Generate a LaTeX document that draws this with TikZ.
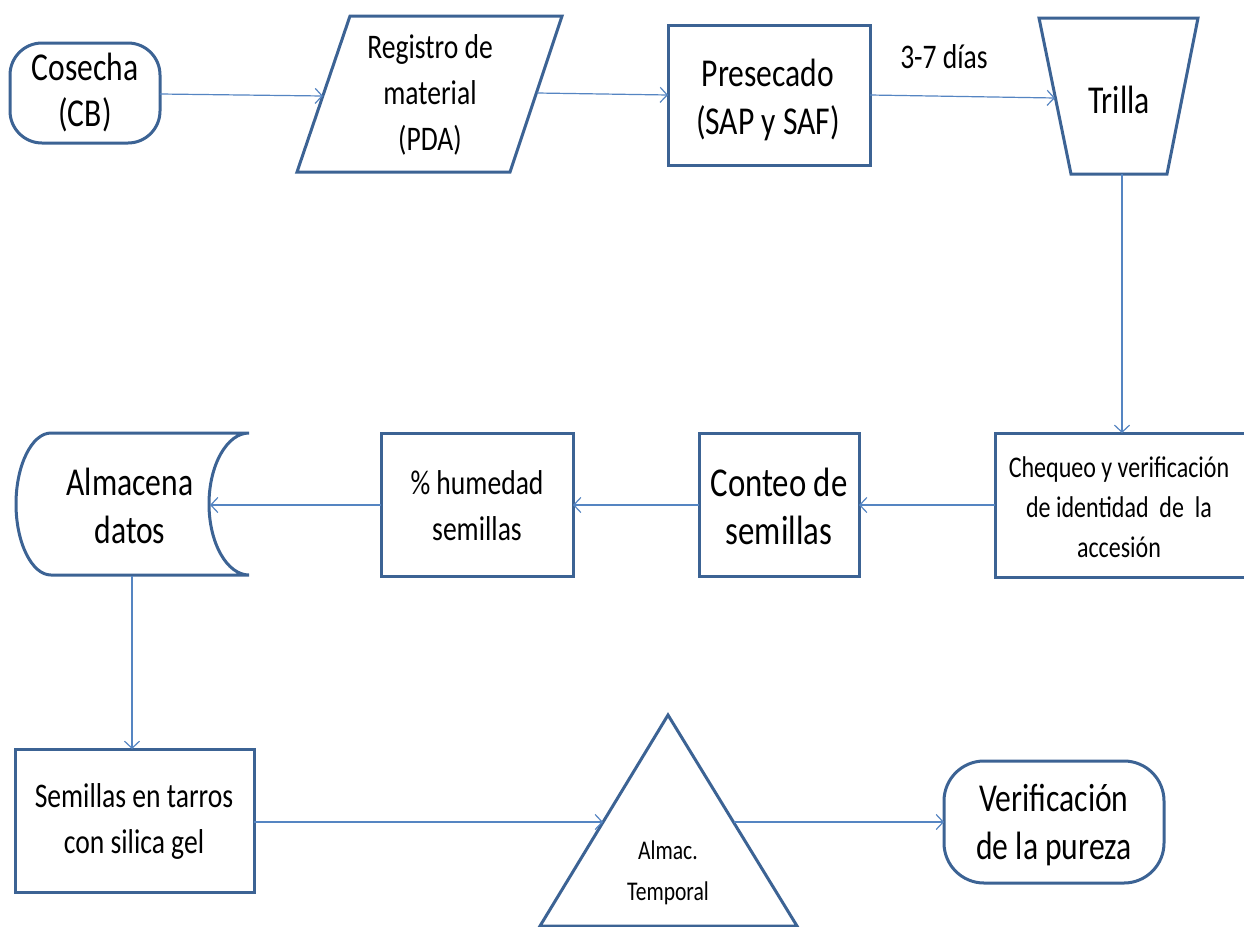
\documentclass[tikz,border=0pt]{standalone}
\usepackage{fontspec}
\setmainfont{Carlito}[FakeStretch=0.8]
\usetikzlibrary{arrows.meta}
\definecolor{bord}{HTML}{3C6394}
\definecolor{link}{HTML}{5585C2}
\begin{document}
\begin{tikzpicture}[x=1pt,y=-1pt,
  box/.style={draw=bord,line width=3pt,fill=white},
  conn/.style={draw=link,line width=1.2pt,-{Straight Barb[length=7pt,width=15pt,line width=1.2pt]}},
  lbl/.style={align=center,inner sep=0pt,text=black},
  big/.style={font=\fontsize{39.5}{46}\selectfont},
  mid/.style={font=\fontsize{34.5}{46}\selectfont},
  sml/.style={font=\fontsize{30}{40}\selectfont},
  tiny/.style={font=\fontsize{27}{41}\selectfont}]
\useasboundingbox (0,0) rectangle (1244,926);
\clip (0,0) rectangle (1244,926);
\fill[white] (0,0) rectangle (1244,926);

% --- row 1 ---
\draw[box,rounded corners=32pt] (10,43) rectangle (160,143);
\node[lbl,big] (cos) at (85,93) {Cosecha\\(CB)};
\coordinate (cosE) at (160,94);

\draw[box] (350,16) -- (562,16) -- (510,172) -- (297,172) -- cycle;
\node[lbl,mid] (reg) at (430,95) {Registro de\\material\\(PDA)};
\coordinate (regW) at (323,96);
\coordinate (regE) at (537,93);

\draw[box] (668,25) rectangle (870,165);
\node[lbl,font=\fontsize{39.5}{48}\selectfont] (pre) at (768,100) {Presecado\\(SAP y SAF)};
\coordinate (preW) at (668,95);
\coordinate (preE) at (870,95);

\node[lbl,mid] (dias) at (944,57) {3-7 días};

\draw[box] (1039,18) -- (1198,18) -- (1167,174) -- (1071,174) -- cycle;
\node[lbl,big] (tri) at (1119,100) {Trilla};
\coordinate (triW) at (1055,98);
\coordinate (triS) at (1122,174);

% --- row 2 ---
\draw[box] (995,433) rectangle (1250,577);
\node[lbl,sml] (che) at (1119,507) {Chequeo y verificación\\de identidad~ de~ la\\accesión};
\coordinate (cheN) at (1122,433);
\coordinate (cheW) at (995,505);

\draw[box] (699,433) rectangle (859,576);
\node[lbl,font=\fontsize{41}{48}\selectfont] (con) at (779,506) {Conteo de\\semillas};
\coordinate (conE) at (859,505);
\coordinate (conW) at (699,505);

\draw[box] (381,433) rectangle (573,576);
\node[lbl,mid] (hum) at (477,506) {\% humedad\\semillas};
\coordinate (humE) at (573,505);
\coordinate (humW) at (381,505);

\draw[box] (51,433) -- (249,433)
  .. controls (227,433) and (209,465) .. (209,504)
  .. controls (209,543) and (227,575) .. (249,575)
  -- (51,575)
  .. controls (32,575) and (16,543) .. (16,504)
  .. controls (16,465) and (32,433) .. cycle;
\node[lbl,font=\fontsize{39.5}{48}\selectfont] (alm) at (130,506) {Almacena\\datos};
\coordinate (almE) at (210,505);
\coordinate (almS) at (132,576);

% --- row 3 ---
\draw[box] (15,749) rectangle (254,892);
\node[lbl,mid] (sem) at (134,821) {Semillas en tarros\\con silica gel};
\coordinate (semN) at (132,749);
\coordinate (semE) at (254,822);

\draw[box] (668,715) -- (797,926) -- (540,926) -- cycle;
\node[lbl,tiny] (tmp) at (668,873) {Almac.\\Temporal};
\coordinate (tmpW) at (603,822);
\coordinate (tmpE) at (734,822);

\draw[box,rounded corners=40pt] (944,761) rectangle (1164,883);
\node[lbl,font=\fontsize{39.5}{48}\selectfont] (ver) at (1054,825) {Verificación\\de la pureza};
\coordinate (verW) at (944,822);

% --- connectors ---
\draw[conn] (cosE) -- (regW);
\draw[conn] (regE) -- (preW);
\draw[conn] (preE) -- (triW);
\draw[conn] (triS) -- (cheN);
\draw[conn] (cheW) -- (conE);
\draw[conn] (conW) -- (humE);
\draw[conn] (humW) -- (almE);
\draw[conn] (almS) -- (semN);
\draw[conn] (semE) -- (tmpW);
\draw[conn] (tmpE) -- (verW);
\end{tikzpicture}
\end{document}
